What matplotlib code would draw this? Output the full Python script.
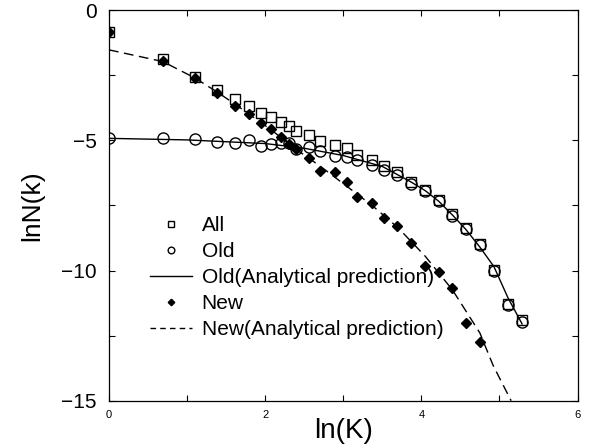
import numpy as np
import matplotlib
matplotlib.use("Agg")
import matplotlib.pyplot as plt
from matplotlib.legend_handler import HandlerLine2D

plt.rcParams['font.family'] = ['Liberation Sans', 'DejaVu Sans']

# ln(k) positions of the data points
x_pts = [0.0, 0.693, 1.099, 1.386, 1.609, 1.792, 1.946, 2.079, 2.197, 2.303, 2.398,
         2.565, 2.708, 2.890, 3.045, 3.178, 3.367, 3.526, 3.689, 3.871, 4.043,
         4.220, 4.394, 4.575, 4.754, 4.927, 5.112, 5.288]

all_y = [-0.82, -1.88, -2.55, -3.06, -3.42, -3.67, -3.93, -4.11, -4.30, -4.44, -4.62,
         -4.79, -5.02, -5.17, -5.30, -5.56, -5.75, -5.98, -6.22, -6.58, -6.90,
         -7.29, -7.83, -8.35, -8.98, -9.98, -11.28, -11.90]

old_y = [-4.89, -4.92, -4.95, -5.05, -5.08, -4.98, -5.20, -5.13, -5.11, -5.08, -5.33,
         -5.26, -5.40, -5.60, -5.65, -5.77, -5.96, -6.12, -6.34, -6.66, -6.96,
         -7.33, -7.90, -8.39, -9.02, -10.01, -11.34, -11.98]

# "New" points only go up to ln(k) ~ 4.75
new_x = x_pts[:25]
new_y = [-0.82, -1.94, -2.61, -3.18, -3.67, -3.98, -4.32, -4.57, -4.88, -5.15, -5.34,
         -5.68, -6.17, -6.22, -6.59, -7.18, -7.42, -7.97, -8.29, -8.95, -9.82,
         -10.07, -10.66, -12.03, -12.76]

# analytical prediction curves
old_fit_x = [0.0, 1.0, 2.0, 2.5, 3.0, 3.5, 3.87, 4.05, 4.22, 4.40, 4.57, 4.75, 4.93, 5.11, 5.29]
old_fit_y = [-4.92, -4.98, -5.12, -5.30, -5.58, -6.00, -6.60, -6.93, -7.33, -7.87, -8.42,
             -9.10, -9.85, -11.05, -12.05]

new_fit_x = [0.0, 0.69, 1.10, 1.39, 1.61, 1.79, 2.08, 2.40, 2.71, 3.04, 3.37, 3.70,
             4.05, 4.40, 4.75, 4.92, 5.15]
new_fit_y = [-1.52, -1.97, -2.60, -3.15, -3.60, -3.98, -4.60, -5.35, -6.00, -6.75, -7.50,
             -8.35, -9.45, -10.75, -12.40, -13.65, -15.0]


class RightMarker(HandlerLine2D):
    # put the legend marker at the right end of the handle, like the original
    def get_xdata(self, legend, xdescent, ydescent, width, height, fontsize):
        xdata = np.linspace(-xdescent, -xdescent + width, 2)
        return xdata, np.array([-xdescent + width - 2])


fig = plt.figure(figsize=(5.95, 4.48), dpi=100)
ax = fig.add_axes([0.1832, 0.1056, 0.7874, 0.8714])

ax.plot(old_fit_x, old_fit_y, color="black", lw=1.0, zorder=1)
ax.plot(new_fit_x, new_fit_y, color="black", lw=1.0, dashes=(7, 4), zorder=1)

h_all, = ax.plot(x_pts, all_y, ls="none", marker="s", ms=7, mfc="none", mec="black",
                 mew=1.0, zorder=3)
h_old, = ax.plot(x_pts, old_y, ls="none", marker="o", ms=8, mfc="none", mec="black",
                 mew=1.0, zorder=3)
h_new, = ax.plot(new_x, new_y, ls="none", marker="D", ms=5.5, mfc="black", mec="black",
                 zorder=4)

l_old, = ax.plot([], [], color="black", lw=1.0)
l_new, = ax.plot([], [], color="black", lw=1.0, dashes=(4, 3))

ax.set_xlim(0, 6)
ax.set_ylim(-15, 0)
ax.set_xticks([0, 2, 4, 6])
ax.set_xticks([1, 3, 5], minor=True)
ax.set_yticks([0, -5, -10, -15])
ax.set_yticks([-2.5, -7.5, -12.5], minor=True)
ax.tick_params(which="both", direction="in", top=True, right=True, length=4, width=0.8)
ax.tick_params(axis="x", which="major", labelsize=8, pad=7)
ax.tick_params(axis="y", which="major", labelsize=15, pad=9)
for s in ax.spines.values():
    s.set_linewidth(0.9)

ax.set_xlabel("ln(K)", fontsize=20, labelpad=-2)
ax.set_ylabel("lnN(k)", fontsize=19, labelpad=12)

ax.legend([h_all, h_old, l_old, h_new, l_new],
          ["All", "Old", "Old(Analytical prediction)", "New", "New(Analytical prediction)"],
          handler_map={h_all: RightMarker(), h_old: RightMarker(), h_new: RightMarker()},
          loc="upper left", bbox_to_anchor=(0.0875, 0.473), frameon=False,
          borderpad=0, borderaxespad=0, fontsize=15, handlelength=2.0,
          handletextpad=0.48, labelspacing=0.34, markerscale=0.6)

fig.savefig("out.png", dpi=100)
